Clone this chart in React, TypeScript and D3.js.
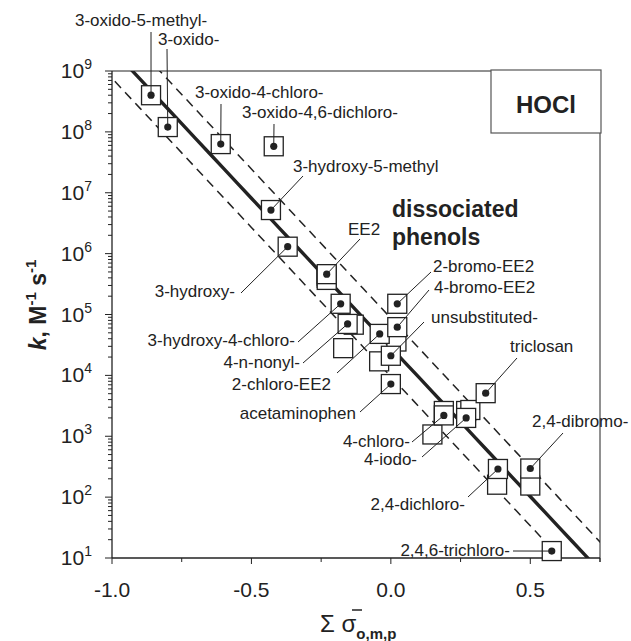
import React from "react";
import * as d3 from "d3";

// labelled compounds (sigma, k)
const names = [
  "3-oxido-5-methyl-", "3-oxido-", "3-oxido-4-chloro-", "3-oxido-4,6-dichloro-",
  "3-hydroxy-5-methyl", "3-hydroxy-", "EE2", "3-hydroxy-4-chloro-", "4-n-nonyl-",
  "2-chloro-EE2", "2-bromo-EE2", "4-bromo-EE2", "unsubstituted-", "acetaminophen",
  "triclosan", "4-chloro-", "4-iodo-", "2,4-dichloro-", "2,4-dibromo-", "2,4,6-trichloro-",
];
const sigma = [
  -0.86, -0.8, -0.61, -0.42, -0.43, -0.37, -0.23, -0.18, -0.155, -0.04,
  0.023, 0.023, 0.0, 0.0, 0.34, 0.19, 0.27, 0.384, 0.5, 0.577,
];
const kValues = [
  4.0e8, 1.2e8, 6.3e7, 5.8e7, 5.2e6, 1.3e6, 4.6e5, 1.5e5, 7.0e4, 4.8e4,
  1.5e5, 6.2e4, 2.1e4, 7.2e3, 5.1e3, 2.2e3, 2.0e3, 290, 295, 13,
];

// other literature values (open squares)
const otherSigma = [-0.23, -0.23, -0.23, -0.171, -0.133, -0.042, 0.02, 0.19, 0.27, 0.285, 0.149, 0.381, 0.5];
const otherK = [4.3e5, 4.0e5, 3.7e5, 2.8e4, 6.8e4, 1.7e4, 3.6e4, 2.6e3, 2.6e3, 2.7e3, 1.07e3, 160, 155];

// Hammett fit: log k = intercept + slope * sigma, dashed band +/- bandWidth
const fitSlope = -4.9;
const fitIntercept = 4.46;
const bandWidth = 0.48;

const yTickExps = [1, 2, 3, 4, 5, 6, 7, 8, 9];
const xMajor = [-1.0, -0.5, 0.0, 0.5];
const xMinor = [-0.75, -0.25, 0.25, 0.75];

// label placement: text position, anchor, leader start
const labelLayout = [
  { tx: 75, ty: 26, a: "start", lx: 151, ly: 32 },
  { tx: 158, ty: 45, a: "start", lx: 167, ly: 49 },
  { tx: 195, ty: 98, a: "start", lx: 221, ly: 104 },
  { tx: 242, ty: 118, a: "start", lx: 274, ly: 124 },
  { tx: 293, ty: 172, a: "start", lx: 303, ly: 176 },
  { tx: 235, ty: 297, a: "end", lx: 241, ly: 293 },
  { tx: 348, ty: 235, a: "start", lx: 360, ly: 239 },
  { tx: 295, ty: 346, a: "end", lx: 298, ly: 342 },
  { tx: 300, ty: 368, a: "end", lx: 303, ly: 363 },
  { tx: 331, ty: 390, a: "end", lx: 337, ly: 373 },
  { tx: 433, ty: 272, a: "start", lx: 431, ly: 272 },
  { tx: 434, ty: 293, a: "start", lx: 429, ly: 290 },
  { tx: 431, ty: 323, a: "start", lx: 424, ly: 322 },
  { tx: 356, ty: 419, a: "end", lx: 360, ly: 412 },
  { tx: 510, ty: 352, a: "start", lx: 517, ly: 358 },
  { tx: 410, ty: 447, a: "end", lx: 412, ly: 442 },
  { tx: 417, ty: 465, a: "end", lx: 422, ly: 457 },
  { tx: 465, ty: 510, a: "end", lx: 468, ly: 497 },
  { tx: 532, ty: 427, a: "start", lx: 563, ly: 433 },
  { tx: 510, ty: 556, a: "end", lx: 513, ly: 551 },
];

const W = 631;
const H = 641;
const left = 112, right = 600, top = 71, bottom = 558;
const font = "'Liberation Sans', Arial, sans-serif";
const ink = "#222";

export default function App() {
  const x = d3.scaleLinear().domain([-1.0, 0.75]).range([left, right]);
  const y = d3.scaleLog().domain([10, 1e9]).range([bottom, top]);

  const sigGrid = d3.range(-1.1, 0.86, 0.05);
  const line = (off: number) =>
    d3
      .line<number>()
      .x((s) => x(s))
      .y((s) => y(Math.pow(10, fitIntercept + off + fitSlope * s)))(sigGrid) || "";

  const minorY: number[] = [];
  for (let e = 1; e < 9; e++) for (let m = 2; m <= 9; m++) minorY.push(m * Math.pow(10, e));

  const box = 19;

  return (
    <svg width={W} height={H} style={{ position: "absolute", left: 0, top: 0, background: "#fff" }} fontFamily={font}>
      <defs>
        <clipPath id="plot">
          <rect x={left} y={top} width={right - left} height={bottom - top} />
        </clipPath>
      </defs>

      {/* fit lines */}
      <g clipPath="url(#plot)" fill="none" stroke={ink}>
        <path d={line(0)} strokeWidth={3.4} />
        <path d={line(bandWidth)} strokeWidth={1.5} strokeDasharray="9 6" />
        <path d={line(-bandWidth)} strokeWidth={1.5} strokeDasharray="9 6" />
      </g>

      {/* frame */}
      <g stroke={ink} fill="none">
        <line x1={left} x2={left} y1={top} y2={bottom} strokeWidth={1.3} />
        <line x1={left} x2={right} y1={bottom} y2={bottom} strokeWidth={1.3} />
        <line x1={left} x2={491} y1={top} y2={top} strokeWidth={1} />
        <line x1={right} x2={right} y1={133} y2={bottom + 4} strokeWidth={1} />
        <rect x={491} y={70} width={110} height={63} stroke="#555" strokeWidth={1.2} fill="#fff" />
      </g>
      <text x={546} y={113} textAnchor="middle" fontSize={24} fontWeight="bold" fill={ink}>
        HOCl
      </text>

      {/* y axis ticks */}
      <g stroke={ink} strokeWidth={1}>
        {yTickExps.map((e) => (
          <line key={"M" + e} x1={left - 7} x2={left} y1={y(Math.pow(10, e))} y2={y(Math.pow(10, e))} />
        ))}
        {minorY.map((v, i) => (
          <line key={"m" + i} x1={left - 4} x2={left} y1={y(v)} y2={y(v)} />
        ))}
      </g>
      <g fill={ink} fontSize={21}>
        {yTickExps.map((e) => (
          <text key={e} x={92} y={y(Math.pow(10, e)) + 7} textAnchor="end">
            10
            <tspan fontSize={14} dy={-9}>
              {e}
            </tspan>
          </text>
        ))}
      </g>

      {/* x axis ticks */}
      <g stroke={ink} strokeWidth={1}>
        {xMajor.map((v) => (
          <line key={"M" + v} x1={x(v)} x2={x(v)} y1={bottom} y2={bottom + 6} />
        ))}
        {xMinor.map((v) => (
          <line key={"m" + v} x1={x(v)} x2={x(v)} y1={bottom} y2={bottom + 4} />
        ))}
      </g>
      <g fill={ink} fontSize={21} textAnchor="middle">
        {xMajor.map((v) => (
          <text key={v} x={x(v)} y={597}>
            {d3.format(".1f")(v).replace("−", "-")}
          </text>
        ))}
      </g>

      {/* axis titles */}
      <text x={320} y={632} fontSize={24} fill={ink}>
        Σ σ
        <tspan fontSize={15} fontWeight="bold" dy={7}>
          o,m,p
        </tspan>
      </text>
      <line x1={352} x2={362} y1={610} y2={610} stroke={ink} strokeWidth={1.5} />
      <text transform="translate(46,305) rotate(-90)" textAnchor="middle" fontSize={23} fontWeight="bold" fill={ink}>
        <tspan fontStyle="italic">k</tspan>, M
        <tspan fontSize={15} dy={-10}>-1</tspan>
        <tspan dy={10}> s</tspan>
        <tspan fontSize={15} dy={-10}>-1</tspan>
      </text>

      {/* open squares */}
      <g fill="#fff" stroke={ink} strokeWidth={1.3}>
        {otherSigma.map((s, i) => (
          <rect key={i} x={x(s) - box / 2} y={y(otherK[i]) - box / 2} width={box} height={box} />
        ))}
      </g>

      {/* labelled squares with dots */}
      {sigma.map((s, i) => (
        <g key={i}>
          <rect x={x(s) - box / 2} y={y(kValues[i]) - box / 2} width={box} height={box} fill="#fff" stroke={ink} strokeWidth={1.3} />
          <circle cx={x(s)} cy={y(kValues[i])} r={3.6} fill={ink} />
        </g>
      ))}

      {/* leaders and labels */}
      <g stroke={ink} strokeWidth={1}>
        {sigma.map((s, i) => (
          <line key={i} x1={labelLayout[i].lx} y1={labelLayout[i].ly} x2={x(s)} y2={y(kValues[i])} />
        ))}
      </g>
      <g fill={ink} fontSize={17}>
        {names.map((n, i) => (
          <text key={n} x={labelLayout[i].tx} y={labelLayout[i].ty} textAnchor={labelLayout[i].a as any}>
            {n}
          </text>
        ))}
      </g>

      <text x={392} y={217} fontSize={23} fontWeight="bold" fill={ink}>
        dissociated
      </text>
      <text x={392} y={245} fontSize={23} fontWeight="bold" fill={ink}>
        phenols
      </text>
    </svg>
  );
}
